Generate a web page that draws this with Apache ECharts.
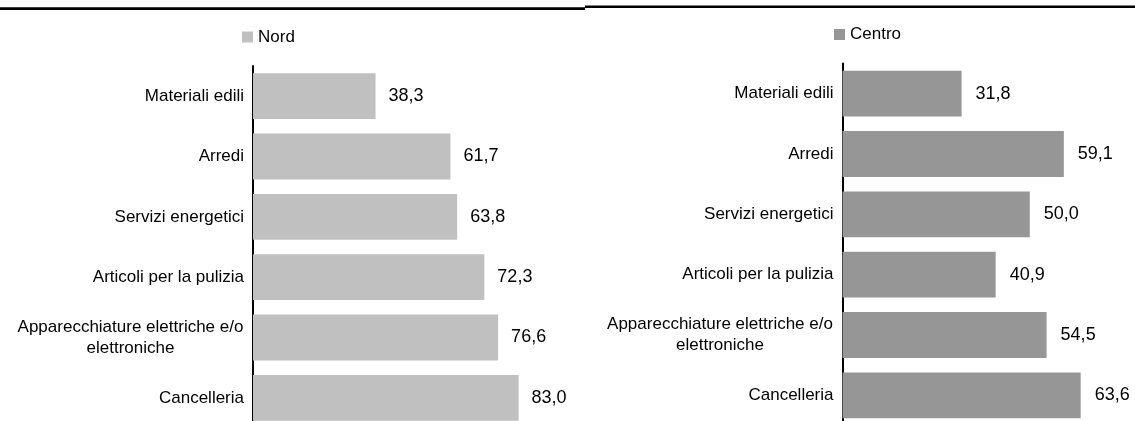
<!DOCTYPE html>
<html>
<head>
<meta charset="utf-8">
<script src="https://cdn.jsdelivr.net/npm/echarts@6/dist/echarts.min.js"></script>
<style>
html,body{margin:0;padding:0;background:#fff;}
#chart{width:1135px;height:421px;}
</style>
</head>
<body>
<div id="chart"></div>
<script>
const categories = ['Materiali edili','Arredi','Servizi energetici','Articoli per la pulizia','Apparecchiature elettriche e/o\nelettroniche','Cancelleria'];
const nordValues = [38.3, 61.7, 63.8, 72.3, 76.6, 83.0];
const centroValues = [31.8, 59.1, 50.0, 40.9, 54.5, 63.6];
const seriesNames = ['Nord', 'Centro'];

function hasFont(name){
  const c = document.createElement('canvas').getContext('2d');
  const t = 'Materiali edili Apparecchiature 0123';
  c.font = '40px monospace'; const a = c.measureText(t).width;
  c.font = '40px "' + name + '", monospace'; const b = c.measureText(t).width;
  return Math.abs(a - b) > 0.5;
}
const narrow = hasFont('Liberation Sans Narrow');
const catFamily = narrow ? '"Liberation Sans Narrow"' : '"Liberation Sans", Arial, sans-serif';
const catSize = narrow ? 21 : 17;
const valFamily = '"Liberation Sans", Arial, sans-serif';
const valSize = 18;

function measure(text, size, fam){
  const c = document.createElement('canvas').getContext('2d');
  c.font = size + 'px ' + fam;
  return c.measureText(text).width;
}
const longest = categories.reduce((m, s) => Math.max(m, ...s.split('\n').filter((l, i, a) => a.length > 1).map(l => measure(l, catSize, catFamily))), 0);
const boxW = Math.ceil(longest) + 1;

function fmtVal(p){ return p.value.toFixed(1).replace('.', ','); }
function catFmt(v){
  const lines = v.split('\n');
  if (lines.length === 1) return v;
  return lines.map(l => '{c|' + l + '}').join('\n');
}

function yAxisFor(gi){
  return {
    type: 'category', gridIndex: gi, data: categories, inverse: true,
    axisLine: {show: true, lineStyle: {color: '#000', width: 2}},
    axisTick: {show: false},
    splitLine: {show: false},
    axisLabel: {
      margin: 9, color: '#000', fontSize: catSize, fontFamily: catFamily,
      lineHeight: 21,
      formatter: catFmt,
      rich: {c: {width: boxW, align: 'center', fontSize: catSize, fontFamily: catFamily, color: '#000', lineHeight: 21}}
    }
  };
}

const chart = echarts.init(document.getElementById('chart'), null, {renderer: 'canvas'});
chart.setOption({
  animation: false,
  backgroundColor: '#fff',
  graphic: [
    {type: 'rect', shape: {x: 0, y: 7.3, width: 585, height: 2.7}, style: {fill: '#000'}},
    {type: 'rect', shape: {x: 585, y: 5.6, width: 550, height: 2.5}, style: {fill: '#000'}}
  ],
  legend: [
    {data: [seriesNames[0]], left: 242, top: 28.5, padding: 0, icon: 'rect', itemWidth: 11, itemHeight: 11, itemGap: 5,
     textStyle: {fontSize: catSize, fontFamily: catFamily, color: '#000'}},
    {data: [seriesNames[1]], left: 834, top: 26, padding: 0, icon: 'rect', itemWidth: 11, itemHeight: 11, itemGap: 5,
     textStyle: {fontSize: catSize, fontFamily: catFamily, color: '#000'}}
  ],
  grid: [
    {left: 253, top: 66, width: 320, height: 362, containLabel: false, outerBoundsMode: 'none'},
    {left: 842.5, top: 63.5, width: 299.6, height: 362, containLabel: false, outerBoundsMode: 'none'}
  ],
  xAxis: [
    {type: 'value', gridIndex: 0, min: 0, max: 100, show: false},
    {type: 'value', gridIndex: 1, min: 0, max: 80, show: false}
  ],
  yAxis: [yAxisFor(0), yAxisFor(1)],
  series: [
    {name: seriesNames[0], type: 'bar', xAxisIndex: 0, yAxisIndex: 0, data: nordValues,
     barCategoryGap: '24%', itemStyle: {color: '#c0c0c0'},
     label: {show: true, position: 'right', distance: 13, formatter: fmtVal, color: '#000', fontSize: valSize, fontFamily: valFamily}},
    {name: seriesNames[1], type: 'bar', xAxisIndex: 1, yAxisIndex: 1, data: centroValues,
     barCategoryGap: '24%', itemStyle: {color: '#969696'},
     label: {show: true, position: 'right', distance: 14, formatter: fmtVal, color: '#000', fontSize: valSize, fontFamily: valFamily}}
  ]
});
</script>
</body>
</html>
